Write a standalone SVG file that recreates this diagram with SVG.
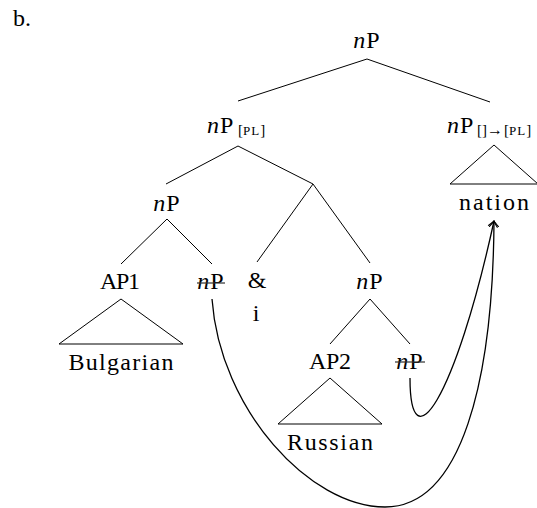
<svg xmlns="http://www.w3.org/2000/svg" width="537" height="508" viewBox="0 0 537 508">
  <style>
    text { font-family: "Liberation Serif", "DejaVu Serif", serif; font-size: 24px; fill: #000; }
    .c { text-anchor: middle; }
    .i { font-style: italic; }
    .np { letter-spacing: 1px; }
    .sub { font-size: 15px; letter-spacing: 0; }
    .sc { font-size: 13px; letter-spacing: 1px; }
    .arr { font-size: 16px; }
    .edge { stroke: #000; stroke-width: 1; fill: none; }
    .roof { stroke: #000; stroke-width: 1; fill: none; stroke-linejoin: miter; }
    .strike { stroke: #333; stroke-width: 1.2; }
    .move { stroke: #000; stroke-width: 1.3; fill: none; marker-end: url(#to); }
  </style>
  <defs>
    <marker id="to" markerUnits="userSpaceOnUse" viewBox="-7 -6 8 12" markerWidth="8" markerHeight="12" refX="0" refY="0" orient="auto" overflow="visible">
      <path d="M-5.5,-4.5 Q-1.5,-1 0,0 Q-1.5,1 -5.5,4.5" fill="none" stroke="#000" stroke-width="1.1" stroke-linecap="round"/>
    </marker>
  </defs>

  <text x="13" y="26">b.</text>

  <!-- tree edges and movement arrows -->
  <g id="connectors">
    <line class="edge" x1="367" y1="59" x2="238" y2="101"/>
    <line class="edge" x1="367" y1="59" x2="490" y2="102"/>
    <line class="edge" x1="238" y1="146" x2="166" y2="184"/>
    <line class="edge" x1="238" y1="146" x2="313" y2="184"/>
    <line class="edge" x1="313" y1="184" x2="257" y2="262"/>
    <line class="edge" x1="313" y1="184" x2="370" y2="263"/>
    <line class="edge" x1="167" y1="219" x2="121" y2="264"/>
    <line class="edge" x1="167" y1="219" x2="212" y2="264"/>
    <line class="edge" x1="370" y1="299" x2="330" y2="344"/>
    <line class="edge" x1="370" y1="299" x2="410" y2="344"/>
    <!-- movement of the lower nP copies to "nation" -->
    <path class="move" d="M212,299 C220,410 310,507 385,507 C462,507 493,380 494,221"/>
    <path class="move" d="M410,378 C410,465 455,400 494,221"/>
  </g>

  <g id="np-root">
    <text class="c np" x="367" y="48"><tspan class="i">n</tspan>P</text>
  </g>

  <g id="np-pl">
    <text class="np" x="207" y="133"><tspan class="i">n</tspan>P</text>
    <text class="sub" x="238" y="135">[<tspan class="sc">PL</tspan>]</text>
  </g>

  <g id="np-nation">
    <text class="np" x="447" y="133"><tspan class="i">n</tspan>P</text>
    <text class="sub" y="135"><tspan x="477">[]</tspan><tspan class="arr" x="487">→</tspan><tspan x="504">[<tspan class="sc">PL</tspan>]</tspan></text>
    <polygon class="roof" points="494,145 450,184 538,184"/>
    <text class="c" x="494" y="210" textLength="70" lengthAdjust="spacing">nation</text>
  </g>

  <g id="np-left">
    <text class="c np" x="167" y="211"><tspan class="i">n</tspan>P</text>
  </g>

  <g id="ap1">
    <text class="c" x="120" y="289" textLength="40" lengthAdjust="spacing">AP1</text>
    <polygon class="roof" points="121,299 59,344 183,344"/>
    <text class="c" x="121" y="370" textLength="105" lengthAdjust="spacing">Bulgarian</text>
  </g>

  <g id="np-copy1">
    <text class="c np" x="211" y="289"><tspan class="i">n</tspan>P</text>
    <line class="strike" x1="197" y1="283" x2="225" y2="283"/>
  </g>

  <g id="conj">
    <text class="c" x="257" y="288">&amp;</text>
    <text class="c" x="256" y="321">i</text>
  </g>

  <g id="np-right">
    <text class="c np" x="370" y="289"><tspan class="i">n</tspan>P</text>
  </g>

  <g id="ap2">
    <text class="c" x="330" y="369" textLength="42" lengthAdjust="spacing">AP2</text>
    <polygon class="roof" points="330,378 278,424 382,424"/>
    <text class="c" x="330" y="450" textLength="86" lengthAdjust="spacing">Russian</text>
  </g>

  <g id="np-copy2">
    <text class="c np" x="410" y="369"><tspan class="i">n</tspan>P</text>
    <line class="strike" x1="395" y1="362" x2="425" y2="362"/>
  </g>
</svg>
